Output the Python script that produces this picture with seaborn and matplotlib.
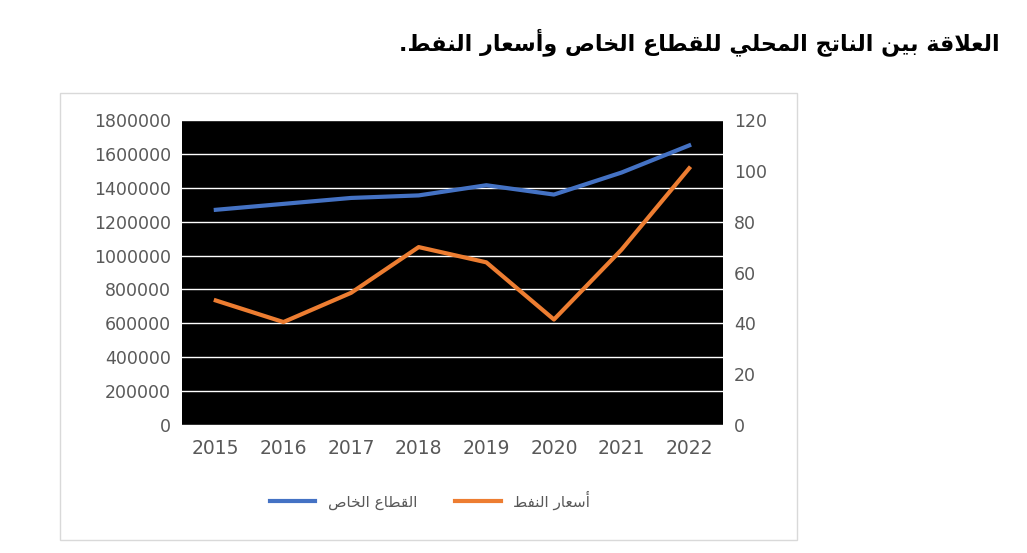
import matplotlib
matplotlib.use("Agg")
import matplotlib.pyplot as plt
import seaborn as sns
from matplotlib.lines import Line2D
from matplotlib.patches import Rectangle
from matplotlib.ticker import FuncFormatter

years = [2015, 2016, 2017, 2018, 2019, 2020, 2021, 2022]
private_sector = [1270000, 1305000, 1340000, 1355000, 1415000, 1360000, 1490000, 1650000]
oil_prices = [49, 40.5, 52, 70, 64, 41.5, 69, 101]
title_text = "العلاقة بين الناتج المحلي للقطاع الخاص وأسعار النفط."
label_private = "القطاع الخاص"
label_oil = "أسعار النفط"

FORMS = {
    'ا': (0xFE8D, 0xFE8E, None, None), 'أ': (0xFE83, 0xFE84, None, None),
    'ب': (0xFE8F, 0xFE90, 0xFE91, 0xFE92), 'ة': (0xFE93, 0xFE94, None, None),
    'ت': (0xFE95, 0xFE96, 0xFE97, 0xFE98), 'ج': (0xFE9D, 0xFE9E, 0xFE9F, 0xFEA0),
    'ح': (0xFEA1, 0xFEA2, 0xFEA3, 0xFEA4), 'خ': (0xFEA5, 0xFEA6, 0xFEA7, 0xFEA8),
    'ر': (0xFEAD, 0xFEAE, None, None), 'س': (0xFEB1, 0xFEB2, 0xFEB3, 0xFEB4),
    'ص': (0xFEB9, 0xFEBA, 0xFEBB, 0xFEBC), 'ط': (0xFEC1, 0xFEC2, 0xFEC3, 0xFEC4),
    'ع': (0xFEC9, 0xFECA, 0xFECB, 0xFECC), 'ف': (0xFED1, 0xFED2, 0xFED3, 0xFED4),
    'ق': (0xFED5, 0xFED6, 0xFED7, 0xFED8), 'ل': (0xFEDD, 0xFEDE, 0xFEDF, 0xFEE0),
    'م': (0xFEE1, 0xFEE2, 0xFEE3, 0xFEE4), 'ن': (0xFEE5, 0xFEE6, 0xFEE7, 0xFEE8),
    'و': (0xFEED, 0xFEEE, None, None), 'ي': (0xFEF1, 0xFEF2, 0xFEF3, 0xFEF4),
}
LAMALEF = {'ا': (0xFEFB, 0xFEFC), 'أ': (0xFEF7, 0xFEF8)}


def dual(c):
    return c in FORMS and FORMS[c][2] is not None


def shape(s):
    out = []
    i = 0
    n = len(s)
    while i < n:
        c = s[i]
        if c not in FORMS:
            out.append(c)
            i += 1
            continue
        jp = i > 0 and dual(s[i - 1])
        if c == 'ل' and i + 1 < n and s[i + 1] in LAMALEF:
            iso, fin = LAMALEF[s[i + 1]]
            out.append(chr(fin if jp else iso))
            i += 2
            continue
        jn = dual(c) and i + 1 < n and s[i + 1] in FORMS
        iso, fin, ini, med = FORMS[c]
        if jp and jn:
            out.append(chr(med))
        elif jp:
            out.append(chr(fin))
        elif jn:
            out.append(chr(ini))
        else:
            out.append(chr(iso))
        i += 1
    return ''.join(out)[::-1]


plt.rcParams['font.family'] = 'DejaVu Sans'
fig = plt.figure(figsize=(10.27, 5.53), dpi=100)
W, H = 1027, 553
fig.patches.append(Rectangle((60 / W, 1 - 540 / H), 737 / W, 447 / H, transform=fig.transFigure,
                             fill=False, edgecolor='#d9d9d9', lw=1))
ax = fig.add_axes([182 / W, 1 - 425 / H, 541 / W, 305 / H])
ax.set_facecolor('black')
blue, orange = '#4472C4', '#ED7D31'
sns.lineplot(x=years, y=private_sector, ax=ax, color=blue, lw=3)
ax.set_ylim(0, 1800000)
ax.set_yticks(range(0, 1800001, 200000))
ax.yaxis.set_major_formatter(FuncFormatter(lambda v, p: f"{int(v)}"))
ax.yaxis.grid(True, color='white', lw=1)
ax.set_axisbelow(True)
ax.set_xlim(2014.5, 2022.5)
ax.set_xticks(years)
ax2 = ax.twinx()
sns.lineplot(x=years, y=oil_prices, ax=ax2, color=orange, lw=3)
ax2.set_ylim(0, 120)
ax2.set_yticks(range(0, 121, 20))
for a in (ax, ax2):
    for sp in a.spines.values():
        sp.set_visible(False)
    a.tick_params(length=0, labelcolor='#595959', labelsize=12.5)
    a.set_xlabel('')
    a.set_ylabel('')
ax.tick_params(axis='x', pad=10, labelsize=13.5)
ax.tick_params(axis='y', pad=8)
ax2.tick_params(axis='y', pad=8)
fig.text(1000 / W, 1 - 42 / H, shape(title_text), ha='right', va='center', fontsize=16, fontweight='bold')
handles = [Line2D([], [], color=blue, lw=3), Line2D([], [], color=orange, lw=3)]
fig.legend(handles, [shape(label_private), shape(label_oil)], loc='center', bbox_to_anchor=(430 / W, 1 - 500 / H),
           ncol=2, frameon=False, fontsize=11, labelcolor='#595959', handlelength=3, columnspacing=2.5)
fig.savefig('out.png', dpi=100)
